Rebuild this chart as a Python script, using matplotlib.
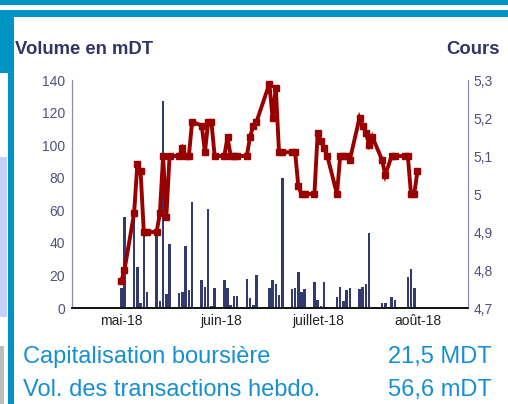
import matplotlib
matplotlib.use("Agg")
import matplotlib.pyplot as plt
import matplotlib.dates as mdates
from matplotlib.patches import Rectangle
import numpy as np

plt.rcParams['font.family'] = ['Liberation Sans', 'DejaVu Sans']

# daily trading sessions (May -> Aug 2018)
dates = [
    "2018-05-03", "2018-05-04",
    "2018-05-07", "2018-05-08", "2018-05-09", "2018-05-10", "2018-05-11",
    "2018-05-14", "2018-05-15", "2018-05-16", "2018-05-17", "2018-05-18",
    "2018-05-21", "2018-05-22", "2018-05-23", "2018-05-24", "2018-05-25",
    "2018-05-28", "2018-05-29", "2018-05-30", "2018-05-31", "2018-06-01",
    "2018-06-04", "2018-06-05", "2018-06-06", "2018-06-07", "2018-06-08",
    "2018-06-11", "2018-06-12", "2018-06-13", "2018-06-14",
    "2018-06-18", "2018-06-19", "2018-06-20", "2018-06-21", "2018-06-22",
    "2018-06-25", "2018-06-26", "2018-06-27", "2018-06-28", "2018-06-29",
    "2018-07-02", "2018-07-03", "2018-07-04", "2018-07-05", "2018-07-06",
    "2018-07-09", "2018-07-10", "2018-07-11", "2018-07-12", "2018-07-13",
    "2018-07-16", "2018-07-17", "2018-07-18", "2018-07-19", "2018-07-20",
    "2018-07-23", "2018-07-24", "2018-07-26", "2018-07-27",
    "2018-07-30", "2018-07-31", "2018-08-01", "2018-08-02", "2018-08-03",
]

# volume in mDT
volume = [
    12, 56,
    56, 25, 3, 46, 10,
    46, 4.5, 127, 8.6, 39,
    9, 10, 38, 11, 65,
    17, 13, 61, 1, 12,
    17, 12, 2, 7.5, 7.5,
    18, 6, 2, 20,
    12, 17, 15, 8, 80,
    11.5, 12, 22, 10, 11.5,
    16, 5, 1.5, 16, 0.5,
    7, 13, 4, 11, 12,
    11.5, 13, 15, 46, 0,
    3, 3, 6.5, 5,
    0, 19, 24, 12, 0,
]

# closing price
cours = [
    4.77, 4.80,
    4.95, 5.08, 5.06, 4.90, 4.90,
    4.90, 4.95, 5.10, 4.94, 5.10,
    5.10, 5.12, 5.10, 5.10, 5.19,
    5.18, 5.11, 5.19, 5.19, 5.10,
    5.10, 5.15, 5.10, 5.10, 5.10,
    5.10, 5.15, 5.18, 5.19,
    5.29, 5.20, 5.28, 5.11, 5.11,
    5.11, 5.11, 5.02, 5.00, 5.00,
    5.00, 5.16, 5.14, 5.12, 5.10,
    5.00, 5.10, 5.10, 5.10, 5.09,
    5.20, 5.18, 5.16, 5.13, 5.15,
    5.09, 5.05, 5.10, 5.10,
    5.10, 5.10, 5.00, 5.00, 5.06,
]

month_labels = ["mai-18", "juin-18", "juillet-18", "août-18"]
month_starts = ["2018-05-01", "2018-06-01", "2018-07-01", "2018-08-01"]

vol_ticks = [0, 20, 40, 60, 80, 100, 120, 140]
cours_ticks = [4.7, 4.8, 4.9, 5.0, 5.1, 5.2, 5.3]
cours_labels = ["4,7", "4,8", "4,9", "5", "5,1", "5,2", "5,3"]

W, H = 508, 404
BLUE = '#0094C5'
NAVY = '#333A70'
TXT = '#333366'
TICK = '#50507A'
FOOT = '#168FD3'

x = mdates.date2num(np.array(dates, dtype='datetime64[D]'))

fig = plt.figure(figsize=(W / 100, H / 100), dpi=100)


def box(x0, y0, x1, y1, color):
    # rectangle given in pixel coords from the top-left corner
    fig.add_artist(Rectangle((x0 / W, 1 - y1 / H), (x1 - x0) / W, (y1 - y0) / H,
                             transform=fig.transFigure, color=color, lw=0, zorder=0))


# page decorations around the chart
box(0, 0, W, 5, BLUE)
box(0, 10, W, 17, BLUE)
box(0, 10, 13.5, 73, BLUE)
box(8, 10, 13.5, H, BLUE)
box(0, 157, 7, 317, '#C8D0FA')
box(0, 346, 4, H, '#BDBDBD')

ax = fig.add_axes([72 / W, 1 - 308 / H, (468 - 72) / W, (308 - 80) / H])
ax2 = ax.twinx()

ax.bar(x, volume, width=0.8, color=NAVY, zorder=2)
ax2.plot(x, cours, color='#990000', lw=2.8, marker='s', markersize=4.2,
         solid_joinstyle='miter', zorder=3)

x0 = mdates.date2num(np.datetime64('2018-05-07'))
ax.set_xlim(x0 - 19.3, x0 + 103.7)
ax.set_ylim(0, 140)
ax2.set_ylim(4.7, 5.3)

ax.set_yticks(vol_ticks)
ax.set_yticklabels([str(v) for v in vol_ticks])
ax2.set_yticks(cours_ticks)
ax2.set_yticklabels(cours_labels)

# Excel puts the month labels a couple of days past the 1st
mt = mdates.date2num(np.array(month_starts, dtype='datetime64[D]')) + 2.1
ax.set_xticks(mt)
ax.set_xticklabels(month_labels)

ax.tick_params(axis='y', length=0, pad=5, labelsize=10, labelcolor=TICK)
ax2.tick_params(axis='y', length=0, pad=4, labelsize=10, labelcolor=TICK)
ax.tick_params(axis='x', length=0, pad=4, labelsize=10, labelcolor='#222222')

for a in (ax, ax2):
    a.spines['top'].set_visible(False)
    a.spines['left'].set_color('#8C8CB0')
    a.spines['right'].set_color('#8C8CB0')
    a.spines['bottom'].set_color('#111111')
    a.spines['bottom'].set_linewidth(1.2)
    a.patch.set_visible(False)

fig.text(15 / W, 1 - 54 / H, "Volume en mDT", fontsize=13.3, fontweight='bold',
         color=TXT, ha='left', va='baseline')
fig.text(500 / W, 1 - 54 / H, "Cours", fontsize=13.3, fontweight='bold',
         color=TXT, ha='right', va='baseline')

fig.text(23 / W, 1 - 363 / H, "Capitalisation boursière", fontsize=17,
         color=FOOT, ha='left', va='baseline')
fig.text(492 / W, 1 - 363 / H, "21,5 MDT", fontsize=17,
         color=FOOT, ha='right', va='baseline')
fig.text(23 / W, 1 - 396 / H, "Vol. des transactions hebdo.", fontsize=17,
         color=FOOT, ha='left', va='baseline')
fig.text(492 / W, 1 - 396 / H, "56,6 mDT", fontsize=17,
         color=FOOT, ha='right', va='baseline')

fig.savefig("out.png", dpi=100)
